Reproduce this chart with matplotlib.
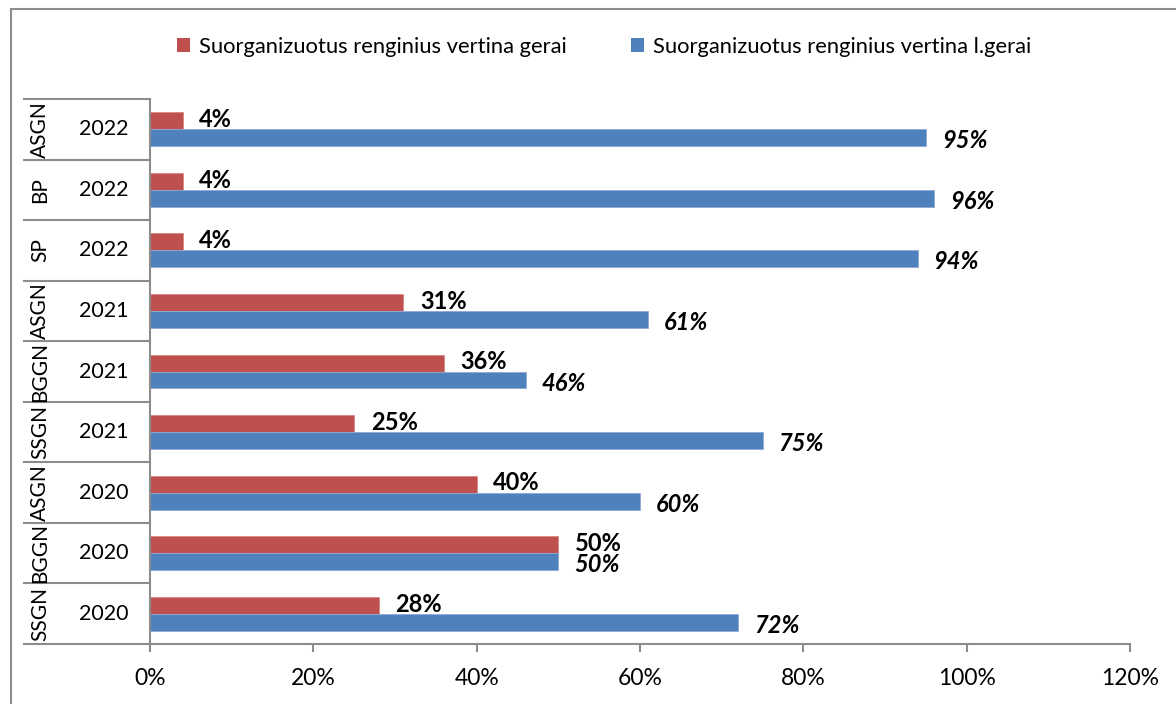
#!/usr/bin/env python3
"""Horizontal bar chart: event ratings by unit and year."""

import matplotlib

matplotlib.use("Agg")
import matplotlib.pyplot as plt
from matplotlib.patches import Patch, Rectangle

# Data, top row first
groups = ["ASGN", "BP", "SP", "ASGN", "BGGN", "SSGN", "ASGN", "BGGN", "SSGN"]
years = ["2022", "2022", "2022", "2021", "2021", "2021", "2020", "2020", "2020"]
gerai = [4, 4, 4, 31, 36, 25, 40, 50, 28]
labai_gerai = [95, 96, 94, 61, 46, 75, 60, 50, 72]
series_names = [
    "Suorganizuotus renginius vertina gerai",
    "Suorganizuotus renginius vertina l.gerai",
]
x_ticks = [0, 20, 40, 60, 80, 100, 120]

RED = "#C0504D"
BLUE = "#4F81BD"
GRAY = "#8C8C8C"

plt.rcParams["font.family"] = ["Lato", "DejaVu Sans"]

W, H = 1176, 704
fig = plt.figure(figsize=(W / 100, H / 100), dpi=100)
fig.patch.set_facecolor("white")

# axes area in pixels: x 150..1130, y 99..644
ax = fig.add_axes([150 / W, 1 - 644 / H, 980 / W, 545 / H])

pos = list(range(len(groups)))
bh = 0.28
ax.barh([p - bh / 2 for p in pos], gerai, height=bh, color=RED,
        edgecolor="#D68784", linewidth=0.6)
ax.barh([p + bh / 2 for p in pos], labai_gerai, height=bh, color=BLUE,
        edgecolor="#8DAAD6", linewidth=0.6)

ax.set_xlim(0, 120)
ax.set_ylim(len(groups) - 0.5, -0.5)

# value labels (the two 50% labels touch, as in the original)
for p, v in zip(pos, gerai):
    ax.annotate(f"{v}%", (v, p - bh / 2 - 0.02), xytext=(12, 0), textcoords="offset points",
                ha="left", va="center", fontsize=17, fontweight="bold")
for p, v in zip(pos, labai_gerai):
    ax.annotate(f"{v}%", (v, p + bh / 2 + 0.05), xytext=(11.5, 0), textcoords="offset points",
                ha="left", va="center", fontsize=17, fontweight="bold", style="italic")

# axes styling
for side in ["top", "right"]:
    ax.spines[side].set_visible(False)
for side in ["left", "bottom"]:
    ax.spines[side].set_color(GRAY)
    ax.spines[side].set_linewidth(1.5)
ax.set_xticks(x_ticks)
ax.set_xticklabels([f"{t}%" for t in x_ticks], fontsize=16.5)
ax.tick_params(axis="x", direction="out", length=6, width=1.5, color=GRAY, pad=11)
ax.set_yticks([])

# multi-level category labels on the left
tr = ax.get_yaxis_transform()
x_left = (24 - 150) / 980
for b in range(len(groups) + 1):
    ax.plot([x_left, 0], [b - 0.5, b - 0.5], color=GRAY, lw=1.5,
            transform=tr, clip_on=False)
for p, g, y in zip(pos, groups, years):
    ax.text((40 - 150) / 980, p, g, transform=tr, rotation=90,
            ha="center", va="center", fontsize=15)
    ax.text((104 - 150) / 980, p, y, transform=tr,
            ha="center", va="center", fontsize=15.5)

# legend
handles = [Patch(facecolor=RED, edgecolor="none"), Patch(facecolor=BLUE, edgecolor="none")]
fig.legend(handles, series_names, loc="center", bbox_to_anchor=(604 / W, 1 - 47 / H),
           ncol=2, frameon=False, fontsize=15.8, handlelength=0.6, handleheight=0.6,
           handletextpad=0.4, columnspacing=2.9)

# chart frame (right and bottom edges fall outside the picture)
fig.add_artist(Rectangle((11 / W, -0.1), 1.2, 1.1 - 9 / H, transform=fig.transFigure,
                         fill=False, edgecolor=GRAY, linewidth=1.5))

fig.savefig("out.png", dpi=100)
